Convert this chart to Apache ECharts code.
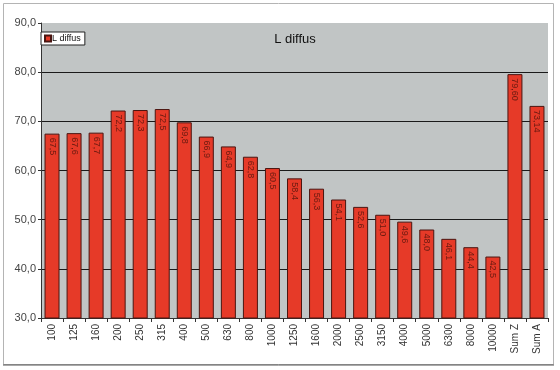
<!DOCTYPE html>
<html>
<head>
<meta charset="utf-8">
<script src="https://cdn.jsdelivr.net/npm/echarts@6/dist/echarts.min.js"></script>
<style>html,body{margin:0;padding:0;background:#fff}#c{width:560px;height:370px}</style>
</head>
<body>
<div id="c"></div>
<script>
var categories = ['100','125','160','200','250','315','400','500','630','800','1000','1250','1600','2000','2500','3150','4000','5000','6300','8000','10000','Sum Z','Sum A'];
var values = [67.5,67.6,67.7,72.2,72.3,72.5,69.8,66.9,64.9,62.8,60.5,58.4,56.3,54.1,52.6,51.0,49.6,48.0,46.1,44.4,42.5,79.6,73.14];
var valueLabels = ['67,5','67,6','67,7','72,2','72,3','72,5','69,8','66,9','64,9','62,8','60,5','58,4','56,3','54,1','52,6','51,0','49,6','48,0','46,1','44,4','42,5','79,60','73,14'];
var yTicks = [30,40,50,60,70,80,90];
var seriesName = 'L diffus';

var chart = echarts.init(document.getElementById('c'));
chart.setOption({
  animation: false,
  textStyle: {fontFamily: 'Liberation Sans, Arial, sans-serif'},
  graphic: [
    {type: 'rect', shape: {x: 3.5, y: 3.5, width: 550, height: 361}, style: {fill: 'none', stroke: '#b4b4b4', lineWidth: 1}, z: -1},
    {type: 'line', shape: {x1: 3, y1: 365, x2: 554, y2: 365}, style: {stroke: '#555', lineWidth: 1}, z: -1}
  ],
  title: {
    text: seriesName, left: 290, top: 28, textAlign: 'center',
    textStyle: {fontSize: 13, fontWeight: 'normal', color: '#111', fontFamily: 'Liberation Sans, Arial, sans-serif'}
  },
  legend: {
    data: [seriesName], left: 41, top: 32, orient: 'vertical',
    backgroundColor: '#fff', borderColor: '#222', borderWidth: 1, padding: [2, 4, 2, 3],
    itemWidth: 6, itemHeight: 6, itemGap: 2, icon: 'rect',
    textStyle: {fontSize: 9, color: '#111', padding: [0, 0, 0, -4]}
  },
  grid: {left: 41, right: 12, top: 23, bottom: 52, show: true, backgroundColor: '#c1c5c5', borderWidth: 0},
  xAxis: {
    type: 'category', data: categories,
    axisLine: {lineStyle: {color: '#333'}},
    axisTick: {show: true, length: 4, lineStyle: {color: '#333'}},
    axisLabel: {rotate: 90, fontSize: 10, color: '#333', margin: 6, interval: 0}
  },
  yAxis: {
    type: 'value', min: 30, max: 90, interval: 10,
    axisLine: {show: true, lineStyle: {color: '#333'}},
    axisTick: {show: true, length: 3, lineStyle: {color: '#333'}},
    axisLabel: {fontSize: 11, color: '#444', margin: 5, formatter: function (v) { return yTicks.indexOf(v) >= 0 ? v.toFixed(1).replace('.', ',') : ''; }},
    splitLine: {show: true, showMaxLine: false, showMinLine: false, lineStyle: {color: '#1a1a1a', width: 1}}
  },
  series: [{
    name: seriesName, type: 'bar', data: values, barCategoryGap: '32%',
    itemStyle: {color: '#e63a28', borderColor: '#4a1510', borderWidth: 1},
    label: {
      show: true, position: 'insideTop', rotate: -90, align: 'left', verticalAlign: 'middle', distance: 4,
      fontSize: 9, color: '#6a1a10',
      formatter: function (p) { return valueLabels[p.dataIndex]; }
    }
  }]
});
</script>
</body>
</html>
